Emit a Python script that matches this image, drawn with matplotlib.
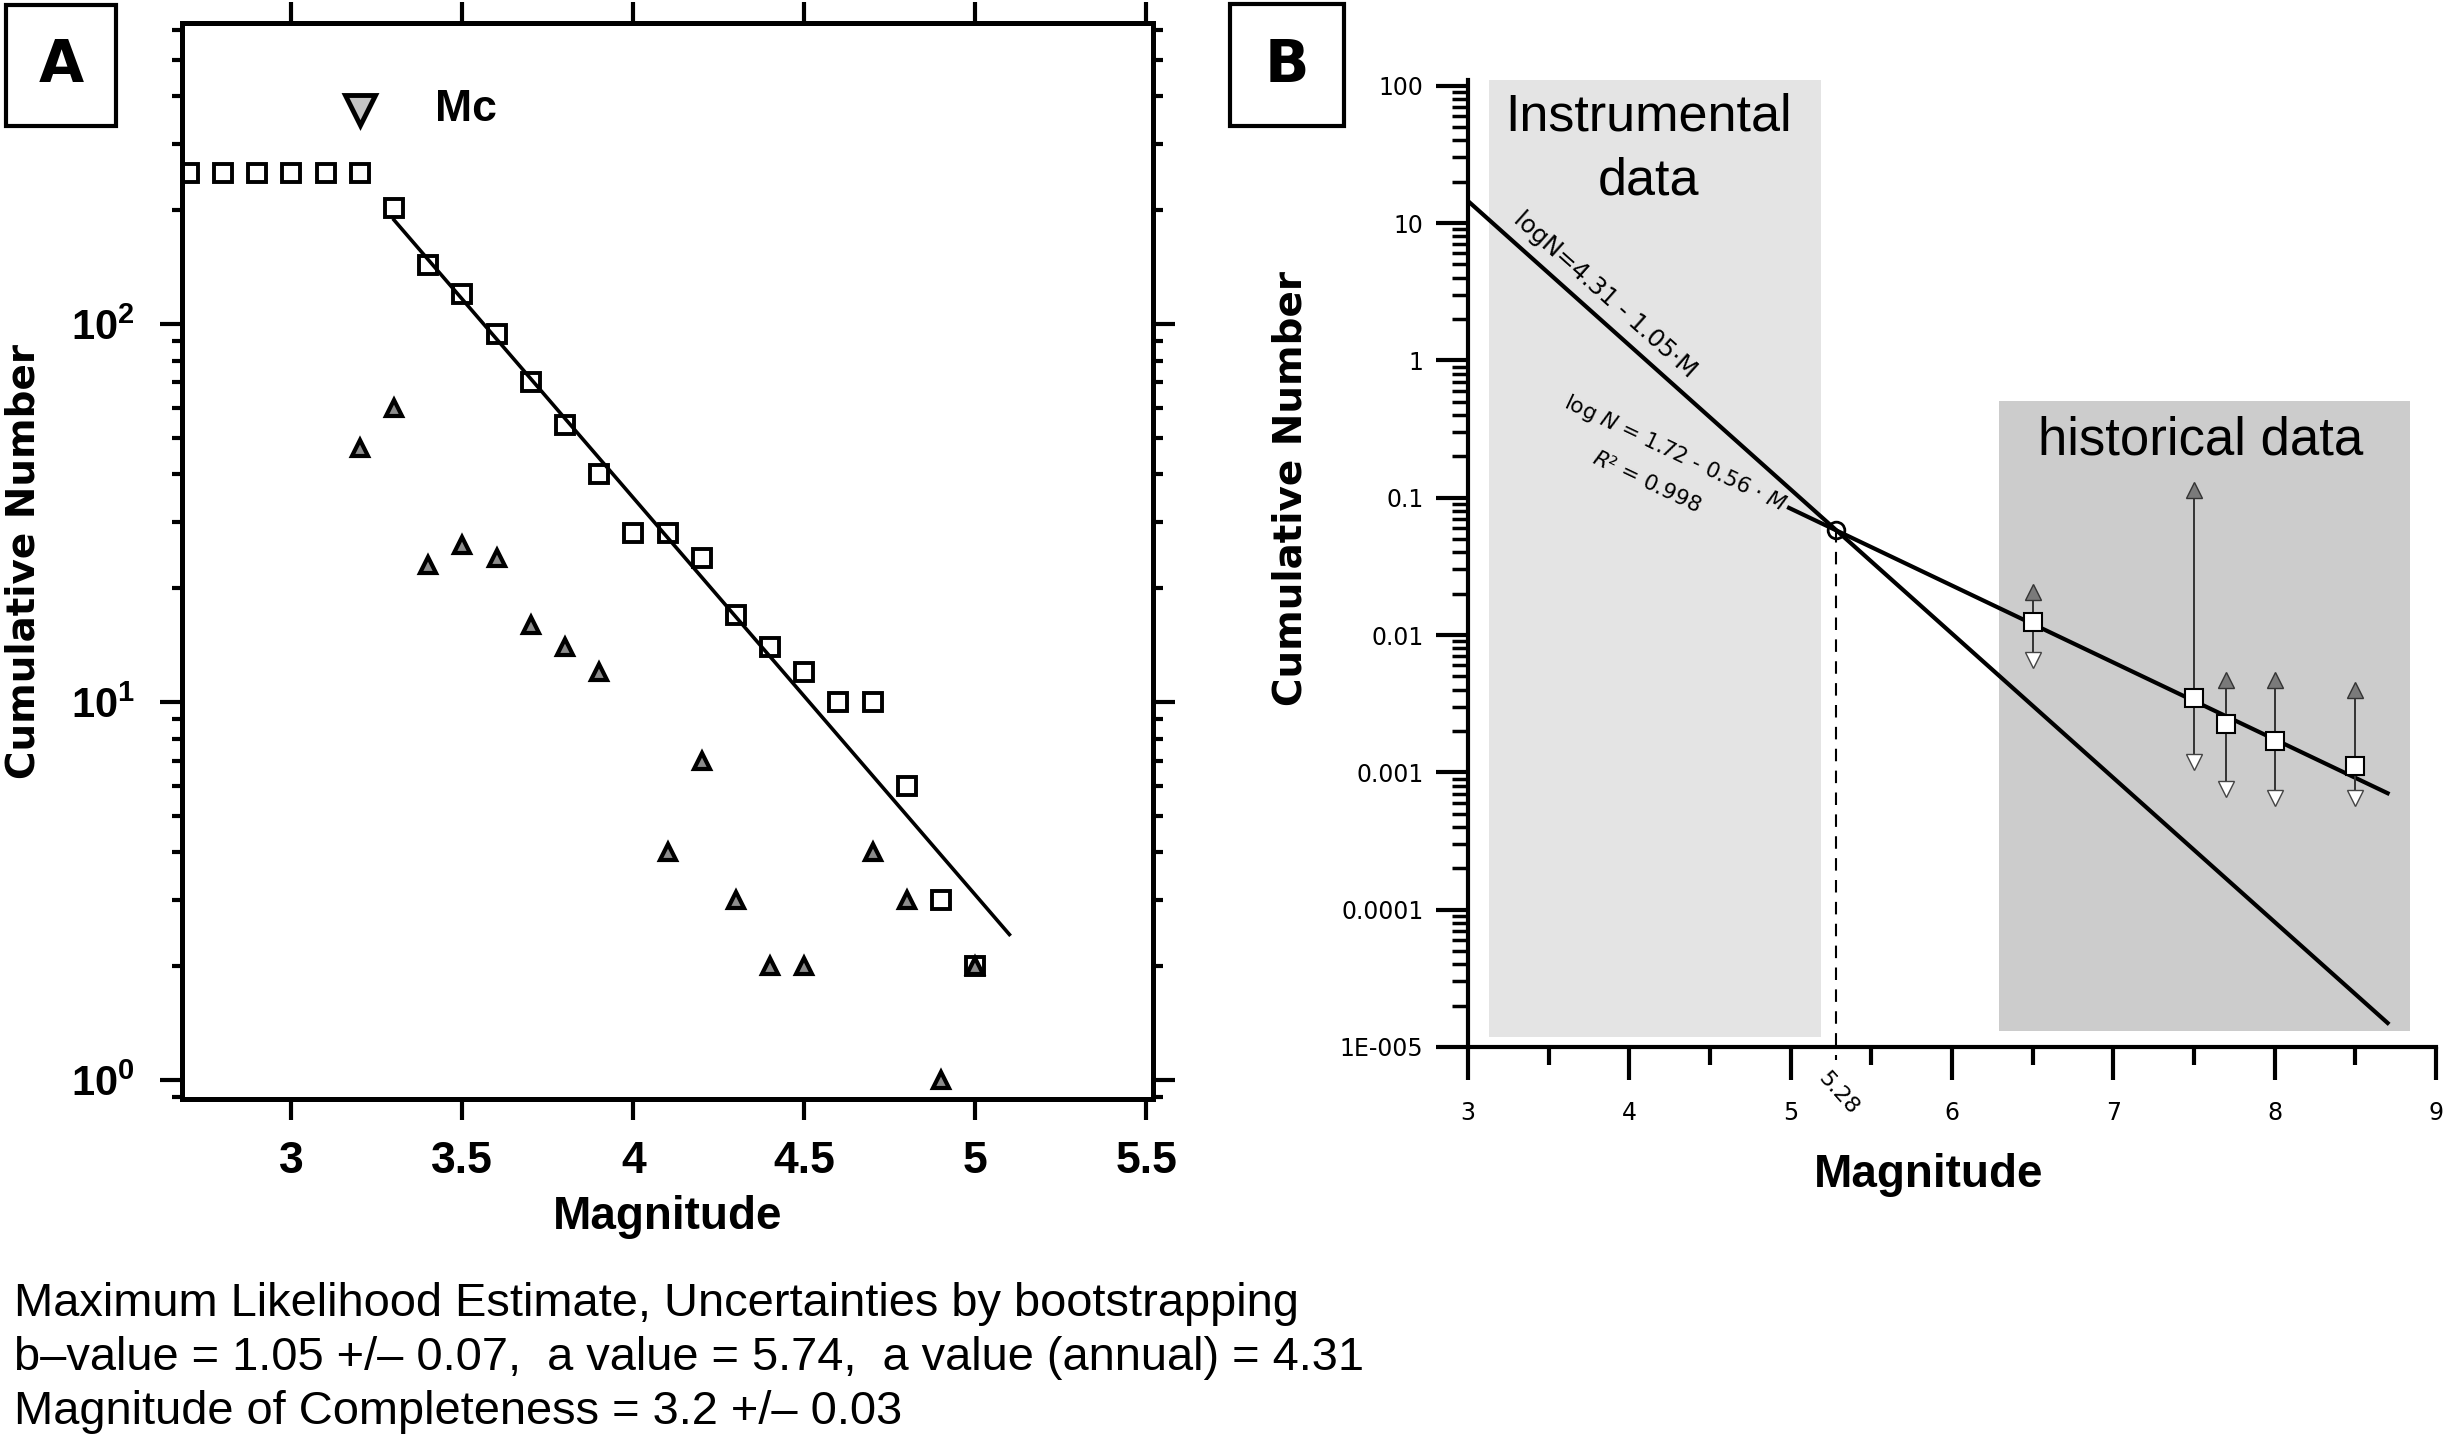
import numpy as np
import matplotlib
matplotlib.use('Agg')
import matplotlib.pyplot as plt
from matplotlib.patches import Rectangle
from matplotlib.ticker import FixedLocator, LogLocator, NullFormatter

plt.rcParams['font.family'] = ['Liberation Sans', 'DejaVu Sans']
plt.rcParams['mathtext.fontset'] = 'custom'
plt.rcParams['mathtext.rm'] = 'Liberation Sans'
plt.rcParams['mathtext.bf'] = 'Liberation Sans:bold'
plt.rcParams['mathtext.it'] = 'DejaVu Sans:italic'

# ---- panel A: frequency-magnitude distribution ----
mag_cum = [2.7, 2.8, 2.9, 3.0, 3.1, 3.2, 3.3, 3.4, 3.5, 3.6, 3.7, 3.8,
           3.9, 4.0, 4.1, 4.2, 4.3, 4.4, 4.5, 4.6, 4.7, 4.8, 4.9, 5.0]
n_cum = [250, 250, 250, 250, 250, 250, 203, 143, 120, 94, 70, 54,
         40, 28, 28, 24, 17, 14, 12, 10, 10, 6, 3, 2]
mag_non = [3.2, 3.3, 3.4, 3.5, 3.6, 3.7, 3.8, 3.9, 4.1, 4.2, 4.3, 4.4,
           4.5, 4.7, 4.8, 4.9, 5.0]
n_non = [47, 60, 23, 26, 24, 16, 14, 12, 4, 7, 3, 2, 2, 4, 3, 1, 2]
a_value, b_value = 5.74, 1.05
fit_range = [3.3, 5.1]
mc_mag, mc_y = 3.2, 368
a_xticks = [3, 3.5, 4, 4.5, 5, 5.5]
a_xticklabels = ['3', '3.5', '4', '4.5', '5', '5.5']
a_yticks = [1, 10, 100]
a_yticklabels = [r'$\mathbf{10^{0}}$', r'$\mathbf{10^{1}}$', r'$\mathbf{10^{2}}$']

# ---- panel B: instrumental vs historical ----
instr_a, instr_b = 4.31, 1.05
hist_a, hist_b = 1.72, 0.56
instr_range = [3.0, 8.7]
hist_range = [4.99, 8.7]
cross_mag = 5.28
hist_mag = [6.5, 7.5, 7.7, 8.0, 8.5]
hist_rate = [0.0124, 0.00347, 0.00224, 0.0017, 0.00112]
hist_upper = [0.0206, 0.1135, 0.00469, 0.00469, 0.00396]
hist_lower = [0.00655, 0.00119, 0.00076, 0.000654, 0.000654]
instr_box = (3.13, 5.186, 1.18e-5, 110)
hist_box = (6.29, 8.84, 1.3e-5, 0.51)
b_yticks = [1e-5, 1e-4, 1e-3, 1e-2, 1e-1, 1, 10, 100]
b_yticklabels = ['1E-005', '0.0001', '0.001', '0.01', '0.1', '1', '10', '100']
b_xticks = [3, 4, 5, 6, 7, 8, 9]

W, H = 2448, 1440
fig = plt.figure(figsize=(W / 100, H / 100), dpi=100)


def px_axes(l, t, r, b):
    return fig.add_axes([l / W, 1 - b / H, (r - l) / W, (b - t) / H])


# =================== A ===================
axA = px_axes(182, 23, 1153, 1099)
axA.set_yscale('log')
axA.set_xlim(2.68, 5.52)
axA.set_ylim(0.891, 625)

axA.plot(mag_cum, n_cum, 's', ms=13.5, mfc='white', mec='black', mew=2.8)
fm = np.array(fit_range)
axA.plot(fm, 10 ** (a_value - b_value * fm), color='black', lw=2.6)
axA.plot(mag_non, n_non, '^', ms=12, mfc='#8c8c8c', mec='black', mew=3)
axA.plot([mc_mag], [mc_y], 'v', ms=21, mfc='#c4c4c4', mec='black', mew=3.5)
axA.text(3.42, mc_y, 'Mc', fontsize=32, fontweight='bold', va='center', ha='left')

axA.set_xticks(a_xticks)
axA.set_xticklabels(a_xticklabels, fontsize=32, fontweight='bold')
axA.yaxis.set_major_locator(FixedLocator(a_yticks))
axA.set_yticklabels(a_yticklabels, fontsize=30)
axA.yaxis.set_minor_locator(LogLocator(base=10, subs=np.arange(2, 10), numticks=50))
axA.yaxis.set_minor_formatter(NullFormatter())
axA.tick_params(axis='x', which='major', direction='out', length=15, width=3,
                top=True, pad=15)
axA.tick_params(axis='y', which='major', direction='out', length=16, width=3,
                right=True, pad=18)
axA.tick_params(axis='y', which='minor', direction='out', length=7, width=3,
                right=True)
for s in axA.spines.values():
    s.set_linewidth(3.6)

# =================== B ===================
axB = px_axes(1468, 80, 2436, 1047)
axB.set_yscale('log')
axB.set_xlim(3, 9)
axB.set_ylim(1e-5, 110)

x0, x1, y0, y1 = instr_box
axB.fill_between([x0, x1], y0, y1, color='#e4e4e4', lw=0, zorder=0)
x0, x1, y0, y1 = hist_box
axB.fill_between([x0, x1], y0, y1, color='#cccccc', lw=0, zorder=0)

m1 = np.array(instr_range)
m2 = np.array(hist_range)
f1 = lambda m: 10 ** (instr_a - instr_b * np.asarray(m))
f2 = lambda m: 10 ** (hist_a - hist_b * np.asarray(m))
axB.plot(m1, f1(m1), color='black', lw=3, zorder=3)
axB.plot(m2, f2(m2), color='black', lw=3, zorder=3)

cross_n = float(f1(cross_mag))
axB.plot([cross_mag, cross_mag], [cross_n, 0.8e-5], color='black', lw=1.5,
         dashes=(6, 4.5), clip_on=False, zorder=2)
axB.plot([cross_mag], [cross_n], 'o', ms=12, mfc='none', mec='black', mew=2, zorder=4)

axB.vlines(hist_mag, hist_lower, hist_upper, color='#333333', lw=1.4, zorder=4)
axB.plot(hist_mag, hist_upper, '^', ms=12, mfc='#7a7a7a', mec='#333333', mew=1, ls='none', zorder=5)
axB.plot(hist_mag, hist_lower, 'v', ms=12, mfc='white', mec='#444444', mew=1, ls='none', zorder=5)
axB.plot(hist_mag, hist_rate, 's', ms=13, mfc='white', mec='black', mew=1.5, ls='none', zorder=6)


def screen_angle(f, xa, xb):
    p = axB.transData.transform([(xa, float(f(xa))), (xb, float(f(xb)))])
    return np.degrees(np.arctan2(p[1, 1] - p[0, 1], p[1, 0] - p[0, 0]))


ang1 = screen_angle(f1, 3.0, 8.7)
ang2 = screen_angle(f2, 5.0, 8.7)
dv = ['DejaVu Sans']
axB.text(3.851, 2.99, 'logN=4.31 - 1.05·M', rotation=ang1, rotation_mode='anchor',
         ha='center', va='center', fontsize=17.5, family=dv)
axB.text(4.286, 0.211, r'log $N$ = 1.72 - 0.56 · $M$', rotation=ang2,
         rotation_mode='anchor', ha='center', va='center', fontsize=15.5, family=dv)
axB.text(4.106, 0.130, r'$R$² = 0.998', rotation=ang2,
         rotation_mode='anchor', ha='center', va='center', fontsize=15.5, family=dv)
axB.annotate('5.28', xy=(cross_mag, 1e-5), xytext=(-5, -15), textcoords='offset points',
             rotation=-48, rotation_mode='anchor', ha='left', va='top',
             fontsize=16, family=dv, annotation_clip=False)

axB.text(4.118, 46.8, 'Instrumental', ha='center', va='baseline', fontsize=37.5)
axB.text(4.118, 16.0, 'data', ha='center', va='baseline', fontsize=37.5)
axB.text(7.54, 0.207, 'historical data', ha='center', va='baseline', fontsize=38)

axB.set_xticks(b_xticks)
axB.set_xticklabels([str(v) for v in b_xticks], fontsize=17, family=dv)
axB.xaxis.set_minor_locator(FixedLocator([3.5, 4.5, 5.5, 6.5, 7.5, 8.5]))
axB.yaxis.set_major_locator(FixedLocator(b_yticks))
axB.set_yticklabels(b_yticklabels, fontsize=17, family=dv)
axB.yaxis.set_minor_locator(LogLocator(base=10, subs=np.arange(2, 10), numticks=100))
axB.yaxis.set_minor_formatter(NullFormatter())
axB.tick_params(axis='x', which='major', direction='out', length=24, width=3, pad=15)
axB.tick_params(axis='x', which='minor', direction='out', length=13, width=3)
axB.tick_params(axis='y', which='major', direction='out', length=23, width=3, pad=9)
axB.tick_params(axis='y', which='minor', direction='out', length=11.5, width=2.5)
axB.spines['top'].set_visible(False)
axB.spines['right'].set_visible(False)
axB.spines['left'].set_linewidth(3)
axB.spines['bottom'].set_linewidth(3)

# =================== labels ===================
fig.text(24 / W, 1 - 562 / H, 'Cumulative Number', rotation=90, ha='center', va='center',
         family=dv, fontweight='bold', fontsize=28)
fig.text(1290 / W, 1 - 489 / H, 'Cumulative Number', rotation=90, ha='center', va='center',
         family=dv, fontweight='bold', fontsize=28)
fig.text(668 / W, 1 - 1229 / H, 'Magnitude', ha='center', va='baseline',
         fontweight='bold', fontsize=33)
fig.text(1929 / W, 1 - 1187 / H, 'Magnitude', ha='center', va='baseline',
         fontweight='bold', fontsize=33)

for (l, t, r, b), lab in [((6, 5, 116, 126), 'A'), ((1230, 4, 1344, 126), 'B')]:
    fig.add_artist(Rectangle((l / W, 1 - b / H), (r - l) / W, (b - t) / H,
                             transform=fig.transFigure, fill=False, lw=3, ec='black'))
    fig.text((l + r) / 2 / W, 1 - (t + b) / 2 / H, lab, ha='center', va='center',
             family=dv, fontweight='bold', fontsize=42)

summary = ['Maximum Likelihood Estimate, Uncertainties by bootstrapping',
           'b\u2013value = 1.05 +/\u2013 0.07,  a value = 5.74,  a value (annual) = 4.31',
           'Magnitude of Completeness = 3.2 +/\u2013 0.03']
for i, line in enumerate(summary):
    fig.text(14 / W, 1 - (1316 + 54 * i) / H, line, ha='left', va='baseline', fontsize=33.8)

fig.savefig('out.png', dpi=100)
